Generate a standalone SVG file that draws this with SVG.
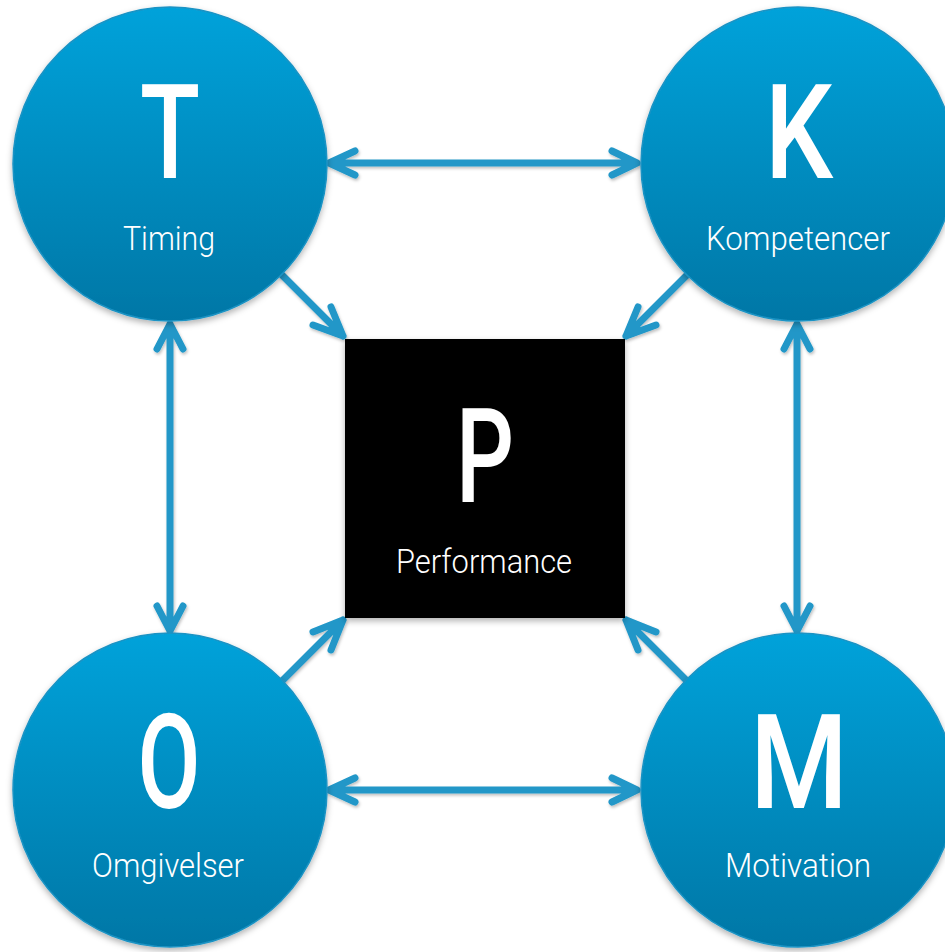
<svg xmlns="http://www.w3.org/2000/svg" width="945" height="952" viewBox="0 0 945 952">
<defs>
<linearGradient id="g" x1="0" y1="0" x2="0" y2="1">
<stop offset="0" stop-color="#06A2DA"/>
<stop offset="1" stop-color="#0277A6"/>
</linearGradient>
<filter id="sh" x="-10%" y="-10%" width="120%" height="125%">
<feDropShadow dx="0" dy="3" stdDeviation="3" flood-color="#000" flood-opacity="0.3"/>
</filter>
<filter id="ash" x="-20%" y="-20%" width="140%" height="140%">
<feDropShadow dx="1" dy="2" stdDeviation="1.5" flood-color="#000" flood-opacity="0.25"/>
</filter>
</defs>
<style>
.c{fill:url(#g);stroke:#1A93C4;stroke-width:1.5;filter:url(#sh)}
.big{font-family:Roboto,"Liberation Sans",sans-serif;font-size:132px;font-weight:500;fill:#fff;text-anchor:middle}
.lbl{font-family:Roboto,"Liberation Sans",sans-serif;font-size:33px;font-weight:300;fill:#fff;text-anchor:middle}
.a{fill:none;stroke:#2097C8;stroke-width:7;stroke-linecap:round;stroke-linejoin:round}
</style>
<g id="connectors" filter="url(#ash)">
<path class="a" d="M330 163H637M355 151L329 163L355 175M612 151L637 163L612 175"/>
<path class="a" d="M330 790H637M355 778L329 790L355 802M612 778L637 790L612 802"/>
<path class="a" d="M170 324V631M157 349L170 324L183 349M157 606L170 631L183 606"/>
<path class="a" d="M797 324V631M784 349L797 324L810 349M784 606L797 631L810 606"/>
<path class="a" d="M282 275L343 336M331 307L343 336L313 325"/>
<path class="a" d="M687 275L626 336M638 307L626 336L656 325"/>
<path class="a" d="M282 681L343 620M313 632L343 620L331 650"/>
<path class="a" d="M687 681L626 620M656 632L626 620L638 650"/>
</g>
<g id="node-T">
<circle class="c" cx="170" cy="164" r="157"/>
<text class="big" x="170" y="178" textLength="60" lengthAdjust="spacingAndGlyphs">T</text>
<text class="lbl" x="169" y="250" textLength="92" lengthAdjust="spacingAndGlyphs">Timing</text>
</g>
<g id="node-K">
<circle class="c" cx="798" cy="164" r="157"/>
<text class="big" x="799" y="178" textLength="68" lengthAdjust="spacingAndGlyphs">K</text>
<text class="lbl" x="798" y="250" textLength="184" lengthAdjust="spacingAndGlyphs">Kompetencer</text>
</g>
<g id="node-O">
<circle class="c" cx="170" cy="790" r="157"/>
<text class="big" x="169" y="808" textLength="63" lengthAdjust="spacingAndGlyphs">O</text>
<text class="lbl" x="168" y="877" textLength="152" lengthAdjust="spacingAndGlyphs">Omgivelser</text>
</g>
<g id="node-M">
<circle class="c" cx="798" cy="790" r="157"/>
<text class="big" x="799" y="808" textLength="98" lengthAdjust="spacingAndGlyphs">M</text>
<text class="lbl" x="798" y="877" textLength="146" lengthAdjust="spacingAndGlyphs">Motivation</text>
</g>
<g id="node-P">
<rect x="345" y="339" width="280" height="279" fill="#000" filter="url(#sh)"/>
<text class="big" x="485" y="502" textLength="58" lengthAdjust="spacingAndGlyphs">P</text>
<text class="lbl" x="484" y="573" textLength="176" lengthAdjust="spacingAndGlyphs">Performance</text>
</g>
</svg>
